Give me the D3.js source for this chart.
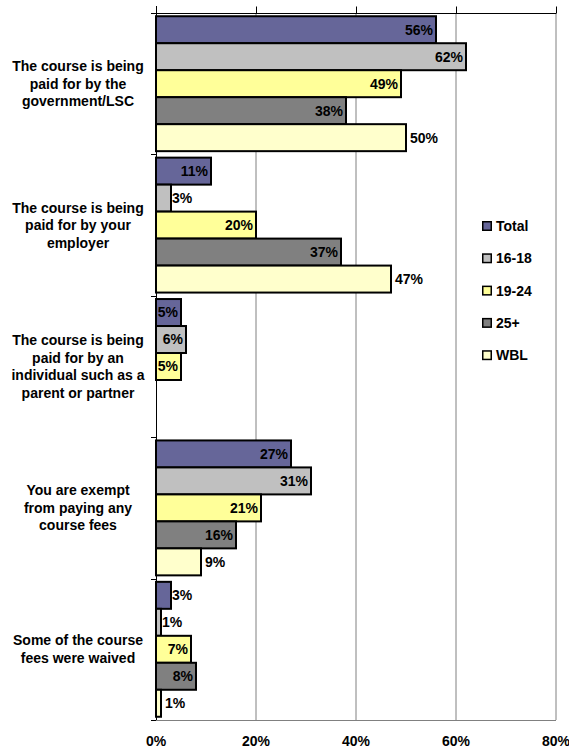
<!DOCTYPE html>
<html>
<head>
<meta charset="utf-8">
<script src="https://cdn.jsdelivr.net/npm/d3@7"></script>
<style>
  html, body { margin: 0; padding: 0; background: #fff; }
  svg { display: block; font-family: "Liberation Sans", Arial, sans-serif; font-weight: bold; }
</style>
</head>
<body>
<svg id="chart" width="569" height="749"></svg>
<script>
// Payment source for the course, by learner group (percent)
const categories = [
  ["The course is being", "paid for by the", "government/LSC"],
  ["The course is being", "paid for by your", "employer"],
  ["The course is being", "paid for by an", "individual such as a", "parent or partner"],
  ["You are exempt", "from paying any", "course fees"],
  ["Some of the course", "fees were waived"]
];
const seriesNames = ["Total", "16-18", "19-24", "25+", "WBL"];
const seriesColors = ["#666699", "#C0C0C0", "#FFFF99", "#808080", "#FFFFCC"];

const totalValues = [56, 11, 5, 27, 3];
const age1618Values = [62, 3, 6, 31, 1];
const age1924Values = [49, 20, 5, 21, 7];
const age25Values = [38, 37, null, 16, 8];
const wblValues = [50, 47, null, 9, 1];

const xTicks = [0, 20, 40, 60, 80];

const seriesValues = [totalValues, age1618Values, age1924Values, age25Values, wblValues];

const svg = d3.select("#chart");
const plot = { left: 156, right: 556, top: 13, bottom: 720 };

const x = d3.scaleLinear().domain([0, 80]).range([plot.left, plot.right]);
const catIdx = categories.map((d, i) => i);
const y = d3.scaleBand().domain(catIdx).range([plot.top, plot.bottom]).padding(0);
const ySub = d3.scaleBand().domain(seriesNames).range([0, y.bandwidth()])
  .paddingInner(0).paddingOuter(0.12);

// vertical gridlines
svg.append("g").selectAll("line").data(xTicks.slice(1)).join("line")
  .attr("x1", d => x(d)).attr("x2", d => x(d))
  .attr("y1", plot.top).attr("y2", plot.bottom)
  .attr("stroke", "#808080").attr("stroke-width", 1);

// bottom border of plot area
svg.append("line")
  .attr("x1", plot.left).attr("x2", plot.right)
  .attr("y1", plot.bottom + 0.5).attr("y2", plot.bottom + 0.5)
  .attr("stroke", "#808080").attr("stroke-width", 1);

// top value axis (ticks only, labels drawn below the plot)
const topAxis = d3.axisTop(x).tickValues(xTicks).tickSize(7).tickFormat("");
const gTop = svg.append("g").attr("transform", `translate(0,${plot.top + 0.5})`).call(topAxis);
gTop.select(".domain").attr("stroke", "#000").attr("d", `M${plot.left},0H${plot.right}`);
gTop.selectAll(".tick line").attr("stroke", "#000");

// bottom tick labels
svg.append("g").selectAll("text").data(xTicks).join("text")
  .attr("x", d => x(d)).attr("y", 746)
  .attr("text-anchor", "middle")
  .attr("font-size", "14px")
  .attr("fill", "#000")
  .text(d => d + "%");

// left category axis with boundary ticks
const bounds = catIdx.map(i => y(i)).concat([plot.bottom]);
svg.append("line")
  .attr("x1", plot.left + 0.5).attr("x2", plot.left + 0.5)
  .attr("y1", plot.top - 7).attr("y2", plot.bottom)
  .attr("stroke", "#000");
svg.append("g").selectAll("line").data(bounds).join("line")
  .attr("x1", plot.left - 5).attr("x2", plot.left)
  .attr("y1", d => Math.round(d) + 0.5).attr("y2", d => Math.round(d) + 0.5)
  .attr("stroke", "#000");

// category labels
const lineH = 17.5;
const catG = svg.append("g");
categories.forEach((lines, i) => {
  const cy = y(i) + y.bandwidth() / 2;
  const t = catG.append("text")
    .attr("text-anchor", "middle")
    .attr("font-size", "14px")
    .attr("fill", "#000");
  lines.forEach((ln, j) => {
    t.append("tspan")
      .attr("x", 78)
      .attr("y", cy + (j - (lines.length - 1) / 2) * lineH)
      .attr("dy", "0.35em")
      .text(ln);
  });
});

// bars
const barData = [];
seriesValues.forEach((vals, s) => {
  vals.forEach((v, c) => {
    if (v !== null) barData.push({ s, c, v });
  });
});

const bars = svg.append("g");
bars.selectAll("rect").data(barData).join("rect")
  .attr("x", x(0))
  .attr("y", d => y(d.c) + ySub(seriesNames[d.s]))
  .attr("width", d => x(d.v) - x(0))
  .attr("height", ySub.bandwidth())
  .attr("fill", d => seriesColors[d.s])
  .attr("stroke", "#000")
  .attr("stroke-width", 2);

// value labels: inside the bar end when they fit, otherwise just outside
const labels = svg.append("g");
labels.selectAll("text").data(barData).join("text")
  .attr("font-size", "14px")
  .attr("fill", "#000")
  .attr("dy", "0.35em")
  .attr("y", d => y(d.c) + ySub(seriesNames[d.s]) + ySub.bandwidth() / 2)
  .each(function (d) {
    const outside = d.s === 4 || d.v < 5;
    const sel = d3.select(this);
    if (outside) {
      sel.attr("x", x(d.v) + (d.s === 4 ? 4 : 1)).attr("text-anchor", "start");
    } else {
      sel.attr("x", x(d.v) - 3).attr("text-anchor", "end");
    }
  })
  .text(d => d.v + "%");

// legend
const legend = svg.append("g").attr("transform", "translate(482,226)");
const legItems = legend.selectAll("g").data(seriesNames).join("g")
  .attr("transform", (d, i) => `translate(0,${i * 32.3})`);
legItems.append("rect")
  .attr("x", 0.75).attr("y", -4.25).attr("width", 8.5).attr("height", 8.5)
  .attr("fill", (d, i) => seriesColors[i])
  .attr("stroke", "#000").attr("stroke-width", 1.5);
legItems.append("text")
  .attr("x", 14).attr("dy", "0.35em")
  .attr("font-size", "14px")
  .attr("fill", "#000")
  .text(d => d);
</script>
</body>
</html>
